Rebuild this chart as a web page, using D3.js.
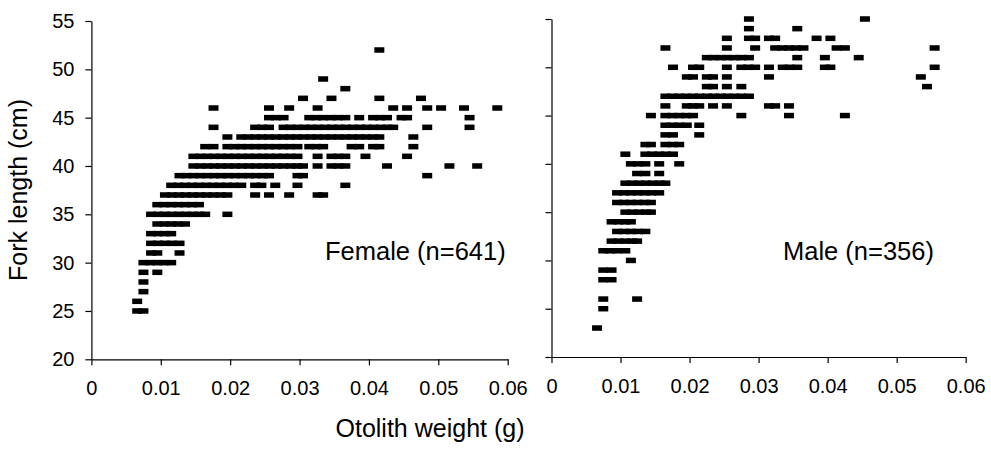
<!DOCTYPE html>
<html>
<head>
<meta charset="utf-8">
<script src="https://cdn.jsdelivr.net/npm/d3@7"></script>
<style>
  body { margin: 0; background: #fff; }
  svg { display: block; font-family: "Liberation Sans", Arial, sans-serif; }
</style>
</head>
<body>
<svg width="991" height="450"></svg>
<script>
// fork length rows (cm) and the otolith weights (g) plotted on each row
var femaleLengths = [52, 49, 48, 47, 46, 45, 44, 43, 42, 41, 40, 39, 38, 37, 36, 35, 34, 33, 32, 31, 30, 29, 28, 27, 26, 25];
var femaleWeights = [
  [0.0415],
  [0.0334],
  [0.0366],
  [0.0305, 0.0346, 0.0415, 0.0475],
  [0.0176, 0.0256, 0.0285, 0.0326, 0.0435, 0.0455, 0.0484, 0.0504, 0.0537, 0.0585],
  [0.0256, 0.0266, 0.0277, 0.0314, 0.0324, 0.0334, 0.0345, 0.0355, 0.0366, 0.0386, 0.0406, 0.0416, 0.0426, 0.0447, 0.0455, 0.0545],
  [0.0176, 0.0236, 0.0246, 0.0256, 0.0277, 0.0287, 0.0297, 0.0307, 0.0317, 0.0327, 0.0337, 0.0347, 0.0357, 0.0367, 0.0377, 0.0387, 0.0397, 0.0407, 0.0417, 0.0427, 0.0435, 0.0484, 0.0545],
  [0.0196, 0.0216, 0.0226, 0.0236, 0.0246, 0.0256, 0.0266, 0.0276, 0.0286, 0.0296, 0.0306, 0.0316, 0.0326, 0.0336, 0.0346, 0.0356, 0.0366, 0.0376, 0.0386, 0.0396, 0.0406, 0.0415, 0.0464],
  [0.0164, 0.0176, 0.0196, 0.0206, 0.0216, 0.0226, 0.0236, 0.0246, 0.0256, 0.0266, 0.0276, 0.0286, 0.0297, 0.0314, 0.0324, 0.0334, 0.0375, 0.0386, 0.0406, 0.0415, 0.0464],
  [0.0147, 0.0157, 0.0167, 0.0177, 0.0187, 0.0197, 0.0207, 0.0217, 0.0227, 0.0237, 0.0247, 0.0257, 0.0267, 0.0277, 0.0287, 0.0297, 0.0326, 0.0346, 0.0356, 0.0366, 0.0395, 0.0455],
  [0.0147, 0.0157, 0.0167, 0.0177, 0.0187, 0.0197, 0.0207, 0.0217, 0.0227, 0.0237, 0.0247, 0.0257, 0.0267, 0.0277, 0.0287, 0.0297, 0.0305, 0.0326, 0.0346, 0.0356, 0.0366, 0.0426, 0.0516, 0.0556],
  [0.0127, 0.0137, 0.0147, 0.0157, 0.0167, 0.0177, 0.0187, 0.0197, 0.0207, 0.0217, 0.0227, 0.0237, 0.0247, 0.0256, 0.0297, 0.0305, 0.0484],
  [0.0115, 0.0125, 0.0135, 0.0145, 0.0155, 0.0165, 0.0175, 0.0185, 0.0195, 0.0205, 0.0216, 0.0236, 0.0245, 0.0265, 0.0297, 0.0366],
  [0.0106, 0.0116, 0.0126, 0.0136, 0.0146, 0.0156, 0.0166, 0.0176, 0.0186, 0.0196, 0.0236, 0.0256, 0.0285, 0.0326, 0.0334],
  [0.0095, 0.0105, 0.0115, 0.0125, 0.0135, 0.0145, 0.0155],
  [0.0086, 0.0096, 0.0106, 0.0116, 0.0126, 0.0136, 0.0146, 0.0156, 0.0164, 0.0196],
  [0.0095, 0.0105, 0.0115, 0.0125, 0.0135],
  [0.0086, 0.0096, 0.0106, 0.0115],
  [0.0086, 0.0096, 0.0106, 0.0116, 0.0127],
  [0.0086, 0.0095, 0.0127],
  [0.0075, 0.0085, 0.0095, 0.0105, 0.0115],
  [0.0075, 0.0095],
  [0.0075],
  [0.0075],
  [0.0066],
  [0.0066, 0.0075]
];

var maleLengths = [55, 54, 53, 52, 51, 50, 49, 48, 47, 46, 45, 44, 43, 42, 41, 40, 39, 38, 37, 36, 35, 34, 33, 32, 31, 30, 29, 28, 26, 25, 23];
var maleWeights = [
  [0.0286, 0.0454],
  [0.0286, 0.0356],
  [0.0254, 0.0286, 0.0295, 0.0315, 0.0324, 0.0384, 0.0404],
  [0.0165, 0.0254, 0.0295, 0.0324, 0.0334, 0.0344, 0.0354, 0.0365, 0.0413, 0.0425, 0.0555],
  [0.0225, 0.0235, 0.0245, 0.0255, 0.0265, 0.0275, 0.0286, 0.0356, 0.0396, 0.0445],
  [0.0176, 0.0205, 0.0214, 0.0254, 0.0275, 0.0285, 0.0295, 0.0315, 0.0335, 0.0345, 0.0356, 0.0396, 0.0404, 0.0555],
  [0.0196, 0.0205, 0.0225, 0.0234, 0.0254, 0.0315, 0.0535],
  [0.0225, 0.0234, 0.0254, 0.0275, 0.0544],
  [0.0165, 0.0175, 0.0185, 0.0195, 0.0205, 0.0215, 0.0225, 0.0235, 0.0245, 0.0255, 0.0265, 0.0275, 0.0286],
  [0.0165, 0.0196, 0.0205, 0.0214, 0.0234, 0.0254, 0.0315, 0.0324, 0.0344],
  [0.0144, 0.0165, 0.0175, 0.0185, 0.0195, 0.0205, 0.0275, 0.0344, 0.0425],
  [0.0165, 0.0175, 0.0185, 0.0196, 0.0214],
  [0.0165, 0.0176, 0.0214],
  [0.0136, 0.0144, 0.0165, 0.0175, 0.0185],
  [0.0107, 0.0136, 0.0146, 0.0156, 0.0166, 0.0176],
  [0.0115, 0.0125, 0.0136, 0.0156, 0.0185],
  [0.0124, 0.0136, 0.0156],
  [0.0107, 0.0117, 0.0127, 0.0137, 0.0147, 0.0157, 0.0165],
  [0.0095, 0.0105, 0.0115, 0.0125, 0.0135, 0.0145, 0.0156],
  [0.0095, 0.0105, 0.0115, 0.0125, 0.0135, 0.0144],
  [0.0107, 0.0117, 0.0127, 0.0137, 0.0144],
  [0.0087, 0.0097, 0.0107, 0.0115],
  [0.0095, 0.0105, 0.0115, 0.0125, 0.0136],
  [0.0087, 0.0097, 0.0107, 0.0117, 0.0124],
  [0.0075, 0.0085, 0.0095, 0.0107],
  [0.0115],
  [0.0075, 0.0087],
  [0.0075, 0.0087],
  [0.0075, 0.0124],
  [0.0075],
  [0.0066]
];

var xTicks = [0, 0.01, 0.02, 0.03, 0.04, 0.05, 0.06];
var yTicks = [20, 25, 30, 35, 40, 45, 50, 55];

var svg = d3.select("svg");

function drawPanel(lengths, weights, left, right, top, bottom, showY, label, labelX) {
  var x = d3.scaleLinear().domain([0, 0.06]).range([left, right]);
  var y = d3.scaleLinear().domain([20, 55]).range([bottom, top]);

  var pts = [];
  lengths.forEach(function(L, i) {
    weights[i].forEach(function(w) { pts.push({w: w, L: L}); });
  });

  svg.append("g").selectAll("rect")
    .data(pts)
    .enter().append("rect")
      .attr("x", function(d) { return x(d.w) - 5; })
      .attr("y", function(d) { return y(d.L) - 2.75; })
      .attr("width", 10)
      .attr("height", 5.5)
      .attr("fill", "#000");

  var yAxis = svg.append("g")
    .attr("transform", "translate(" + left + ",0)")
    .call(d3.axisLeft(y).tickValues(yTicks).tickSize(6).tickSizeOuter(0).tickPadding(11)
      .tickFormat(showY ? d3.format("d") : ""));

  var xAxis = svg.append("g")
    .attr("transform", "translate(0," + bottom + ")")
    .call(d3.axisBottom(x).tickValues(xTicks).tickSize(6).tickSizeOuter(0).tickPadding(16)
      .tickFormat(function(d) { return d === 0 ? "0" : d3.format(".2f")(d); }));

  [yAxis, xAxis].forEach(function(a) {
    a.selectAll("path, line").attr("stroke", "#000").attr("stroke-width", 1.2);
    a.selectAll("text").attr("fill", "#000").style("font-size", "20px");
  });

  svg.append("text")
    .attr("x", labelX)
    .attr("y", 260)
    .style("font-size", "25.5px")
    .attr("fill", "#000")
    .text(label);
}

drawPanel(femaleLengths, femaleWeights, 91.4, 507.7, 21, 359.3, true, "Female (n=641)", 325);
drawPanel(maleLengths, maleWeights, 551.5, 965.7, 19, 357, false, "Male (n=356)", 783);

svg.append("text")
  .attr("transform", "translate(27,190) rotate(-90)")
  .attr("text-anchor", "middle")
  .style("font-size", "25px")
  .text("Fork length (cm)");

svg.append("text")
  .attr("x", 430)
  .attr("y", 437)
  .attr("text-anchor", "middle")
  .style("font-size", "25px")
  .text("Otolith weight (g)");
</script>
</body>
</html>
